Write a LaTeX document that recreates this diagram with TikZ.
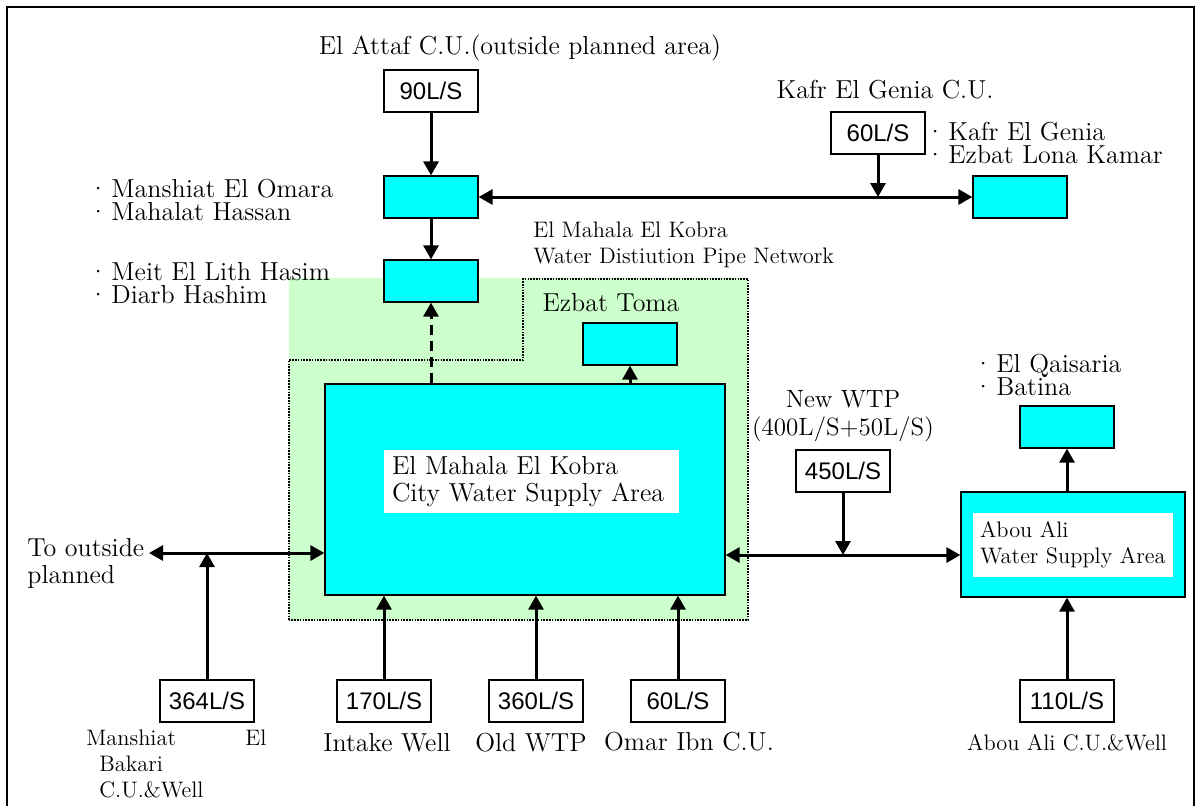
\documentclass[tikz,border=0pt]{standalone}
\usepackage{fontspec}
\newfontfamily\gothic{Liberation Sans}
\usepackage{tikz}
\usetikzlibrary{arrows.meta,positioning,calc}

\definecolor{areacyan}{RGB}{0,255,255}
\definecolor{netgreen}{RGB}{204,255,204}

\newcommand{\dotitem}{\makebox[9pt][l]{\kern-2.5pt\textperiodcentered}}

\begin{document}
\begin{tikzpicture}[x=0.5pt,y=-0.5pt]

\tikzset{
  lbl/.style={font=\fontsize{13}{13.5}\selectfont, inner sep=0pt},
  small/.style={font=\fontsize{11.2}{13}\selectfont, inner sep=0pt},
  list/.style={font=\fontsize{13}{11.5}\selectfont, inner sep=0pt, align=left, anchor=west},
  rate/.style={draw, line width=0.6pt, fill=white, font=\gothic\fontsize{12}{12}\selectfont,
               minimum width=47pt, minimum height=21pt, inner sep=0pt},
  area/.style={draw, line width=0.6pt, fill=areacyan, minimum width=47pt, minimum height=21pt, inner sep=0pt},
  whitelbl/.style={fill=white, inner ysep=0pt, align=left},
  flow/.style={line width=1.5pt, -{Triangle[length=7pt,width=7.5pt]}},
  both/.style={line width=1.5pt, {Triangle[length=7pt,width=7.5pt]}-{Triangle[length=7pt,width=7.5pt]}},
  netedge/.style={line width=0.8pt, dash pattern=on 0.8pt off 0.6pt}
}

\useasboundingbox (0,0) rectangle (1197,805);

% Frame
\draw[line width=0.6pt] (7,810) -- (7,7) -- (1194,7) -- (1194,810);

% Pipe network area
\fill[netgreen] (289,278) rectangle (748,620);
\draw[netedge] (289,620) -- (289,360) -- (523,360) -- (523,279) -- (748,279) -- (748,620) -- cycle;
\node[small, anchor=west, align=left] (nettxt) at (533,245) {El Mahala El Kobra\\Water Distiution Pipe Network};

% El Attaf
\node[lbl] (attaftxt) at (520,48) {El Attaf C.U.(outside planned area)};
\node[rate] (attaf) at (431,91) {90L/S};
\node[area] (omara) at (431,197) {};
\node[area] (meit) at (431,281) {};
\node[list] (omaralist) at (93,199.5) {\dotitem Manshiat El Omara\\\dotitem Mahalat Hassan};
\node[list] (meitlist) at (93,283.5) {\dotitem Meit El Lith Hasim\\\dotitem Diarb Hashim};

% Kafr El Genia
\node[lbl] (kafrtxt) at (885,90) {Kafr El Genia C.U.};
\node[rate] (kafr60) at (878,133) {60L/S};
\node[list] (kafrlist) at (930,143) {\dotitem Kafr El Genia\\\dotitem Ezbat Lona Kamar};
\node[area] (kafr) at (1020,197) {};

% City
\node[lbl] (tomatxt) at (611,303) {Ezbat Toma};
\node[area] (toma) at (630,344) {};
\node[area, minimum width=200pt, minimum height=105.5pt] (city) at (525,489.5) {};
\node[whitelbl, lbl, inner xsep=4pt, minimum height=31.5pt, text width=139.5pt] (citytxt) at (531.5,481.5)
  {El Mahala El Kobra\\City Water Supply Area};

% Abou Ali
\node[area, minimum width=112pt, minimum height=52.5pt] (abou) at (1073,544.5) {};
\node[whitelbl, small, inner xsep=3.5pt, minimum height=32pt, text width=93pt] (aboutxt) at (1073,545)
  {Abou Ali\\Water Supply Area};
\node[area] (qais) at (1067,427) {};
\node[list] (qaislist) at (978,375) {\dotitem El Qaisaria\\\dotitem Batina};

% New WTP
\node[lbl, align=center, font=\fontsize{12.5}{14}\selectfont] (newtxt) at (843,416) {New WTP\\(400L/S+50L/S)};
\node[rate] (new450) at (843,471) {450L/S};

% Sources
\node[rate] (bak) at (207,701) {364L/S};
\node[rate] (intake) at (384,701) {170L/S};
\node[rate] (oldwtp) at (536,701) {360L/S};
\node[rate] (omar) at (678,701) {60L/S};
\node[rate] (abou110) at (1067,701) {110L/S};

\node[small, anchor=west, align=left] (baktxt) at (86,764)
  {\makebox[90pt][l]{Manshiat\hfill El}\\\hspace*{6.5pt}Bakari\\\hspace*{6.5pt}C.U.\&Well};
\node[lbl] (intaketxt) at (387,743) {Intake Well};
\node[lbl] (oldtxt) at (531,743) {Old WTP};
\node[lbl] (omartxt) at (689,742) {Omar Ibn C.U.};
\node[small] (abousrc) at (1067,743) {Abou Ali C.U.\&Well};

\node[lbl, anchor=west, align=left] (outtxt) at (27,563.5) {To outside\\planned};
\coordinate (outl) at (149,553);
\coordinate (rj) at (843,555);

% Arrows
\draw[flow] (attaf) -- (omara);
\draw[flow] (omara) -- (meit);
\draw[both] (omara) -- (kafr);
\draw[flow] (kafr60) -- (kafr60 |- omara);
\draw[flow, dash pattern=on 5pt off 3pt] (city.north -| meit) -- (meit);
\draw[flow] (city.north -| toma) -- (toma);
\draw[both] (outl) -- (outl -| city.west);
\draw[flow] (bak) -- (bak |- outl);
\draw[flow] (intake) -- (intake |- city.south);
\draw[flow] (oldwtp) -- (oldwtp |- city.south);
\draw[flow] (omar) -- (omar |- city.south);
\draw[both] (rj -| city.east) -- (rj -| abou.west);
\draw[flow] (new450) -- (rj);
\draw[flow] (abou.north -| qais) -- (qais);
\draw[flow] (abou110) -- (abou110 |- abou.south);

\end{tikzpicture}
\end{document}
